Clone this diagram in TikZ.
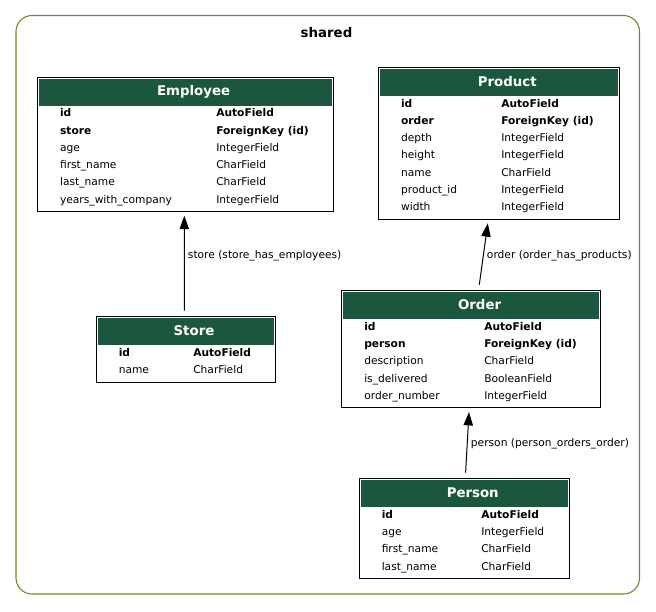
\documentclass[tikz,border=0pt]{standalone}
\usepackage{fontspec}
\setmainfont{DejaVu Sans}
\usetikzlibrary{fit,calc,arrows.meta}

\definecolor{hdrgreen}{HTML}{1B563F}
\definecolor{clustergreen}{HTML}{698B22}

\newcommand\fieldsize{\fontsize{8}{9.6}\selectfont}
\newcommand\titlesize{\fontsize{10}{12}\selectfont\bfseries}

\tikzset{
  cluster/.style={draw=clustergreen, line width=0.8pt, rounded corners=12pt, inner sep=0pt},
  clustertitle/.style={anchor=base, inner sep=0pt, font=\titlesize},
  tablebox/.style={draw=black, line width=0.75pt, fill=white, inner sep=0pt},
  hdrtext/.style={anchor=base, inner sep=0pt, text=white, font=\titlesize},
  fieldtext/.style={anchor=base west, inner sep=0pt},
  fk/.style={draw=black, line width=0.75pt, -{Triangle[length=10pt,width=7pt]},
             shorten <=4pt, shorten >=2.8pt},
  fklabel/.style={anchor=base west, inner sep=0pt, font=\fieldsize},
}

% #1 node name, #2 left, #3 right, #4 top, #5 x of type column,
% #6 model name, #7 number of fields, #8 fields as name/type/weight
\newcommand\dbtable[8]{%
  \node[tablebox, fit={(#2,#4) (#3,{#4+39+17.25*(#7-1)+9.3})}] (#1) {};
  \fill[hdrgreen] ($(#1.north west)+(2,2)$) rectangle ($(#1.north east)+(-2,29)$);
  \node[hdrtext] (#1-title) at ({(#2+#3)/2+8.5},{#4+18.9}) {#6};
  \foreach \fname/\ftype/\fw [count=\k from 0] in {#8} {
    \node[fieldtext, font={\fieldsize\fw}] (#1-name-\k) at ({#2+22.5},{#4+39.8+17.25*\k}) {\fname};
    \node[fieldtext, font={\fieldsize\fw}] (#1-type-\k) at ({#5},{#4+39.8+17.25*\k}) {\ftype};
  }
}

\begin{document}
\begin{tikzpicture}[x=0.75pt, y=-0.75pt]
  \useasboundingbox[fill=white] (0,0) rectangle (656,611);

  % app cluster
  \node[cluster, fit={(16,15.5) (639.5,594)}] (shared) {};
  \node[clustertitle] (shared-title) at (326.5,37) {shared};

  % models
  \dbtable{employee}{37.3}{333}{77}{216}{Employee}{6}{%
    id/AutoField/\bfseries,
    store/ForeignKey (id)/\bfseries,
    age/IntegerField/\mdseries,
    first\_name/CharField/\mdseries,
    last\_name/CharField/\mdseries,
    years\_with\_company/IntegerField/\mdseries}

  \dbtable{product}{378.3}{619.3}{67.3}{501}{Product}{7}{%
    id/AutoField/\bfseries,
    order/ForeignKey (id)/\bfseries,
    depth/IntegerField/\mdseries,
    height/IntegerField/\mdseries,
    name/CharField/\mdseries,
    product\_id/IntegerField/\mdseries,
    width/IntegerField/\mdseries}

  \dbtable{store}{96}{275}{316.5}{193}{Store}{2}{%
    id/AutoField/\bfseries,
    name/CharField/\mdseries}

  \dbtable{order}{341.5}{600.7}{290.5}{484}{Order}{5}{%
    id/AutoField/\bfseries,
    person/ForeignKey (id)/\bfseries,
    description/CharField/\mdseries,
    is\_delivered/BooleanField/\mdseries,
    order\_number/IntegerField/\mdseries}

  \dbtable{person}{359}{569.5}{478.5}{481}{Person}{4}{%
    id/AutoField/\bfseries,
    age/IntegerField/\mdseries,
    first\_name/CharField/\mdseries,
    last\_name/CharField/\mdseries}

  % foreign keys
  \coordinate (se-from) at ($(store.north)+(-1.2,0)$);
  \coordinate (se-to)   at ($(employee.south)+(-0.85,0)$);
  \draw[fk] (se-from) -- (se-to);
  \node[fklabel] (se-label) at (187.7,258.6) {store (store\_has\_employees)};

  \coordinate (op-from) at ($(order.north)+(7.45,0)$);
  \coordinate (op-to)   at ($(product.south)+(-10.5,0)$);
  \draw[fk] (op-from) -- (op-to);
  \node[fklabel] (op-label) at (486.7,258) {order (order\_has\_products)};

  \coordinate (po-from) at ($(person.north)+(1.05,0)$);
  \coordinate (po-to)   at ($(order.south)+(-1.9,0)$);
  \draw[fk] (po-from) -- (po-to);
  \node[fklabel] (po-label) at (470.7,446.4) {person (person\_orders\_order)};
\end{tikzpicture}
\end{document}
